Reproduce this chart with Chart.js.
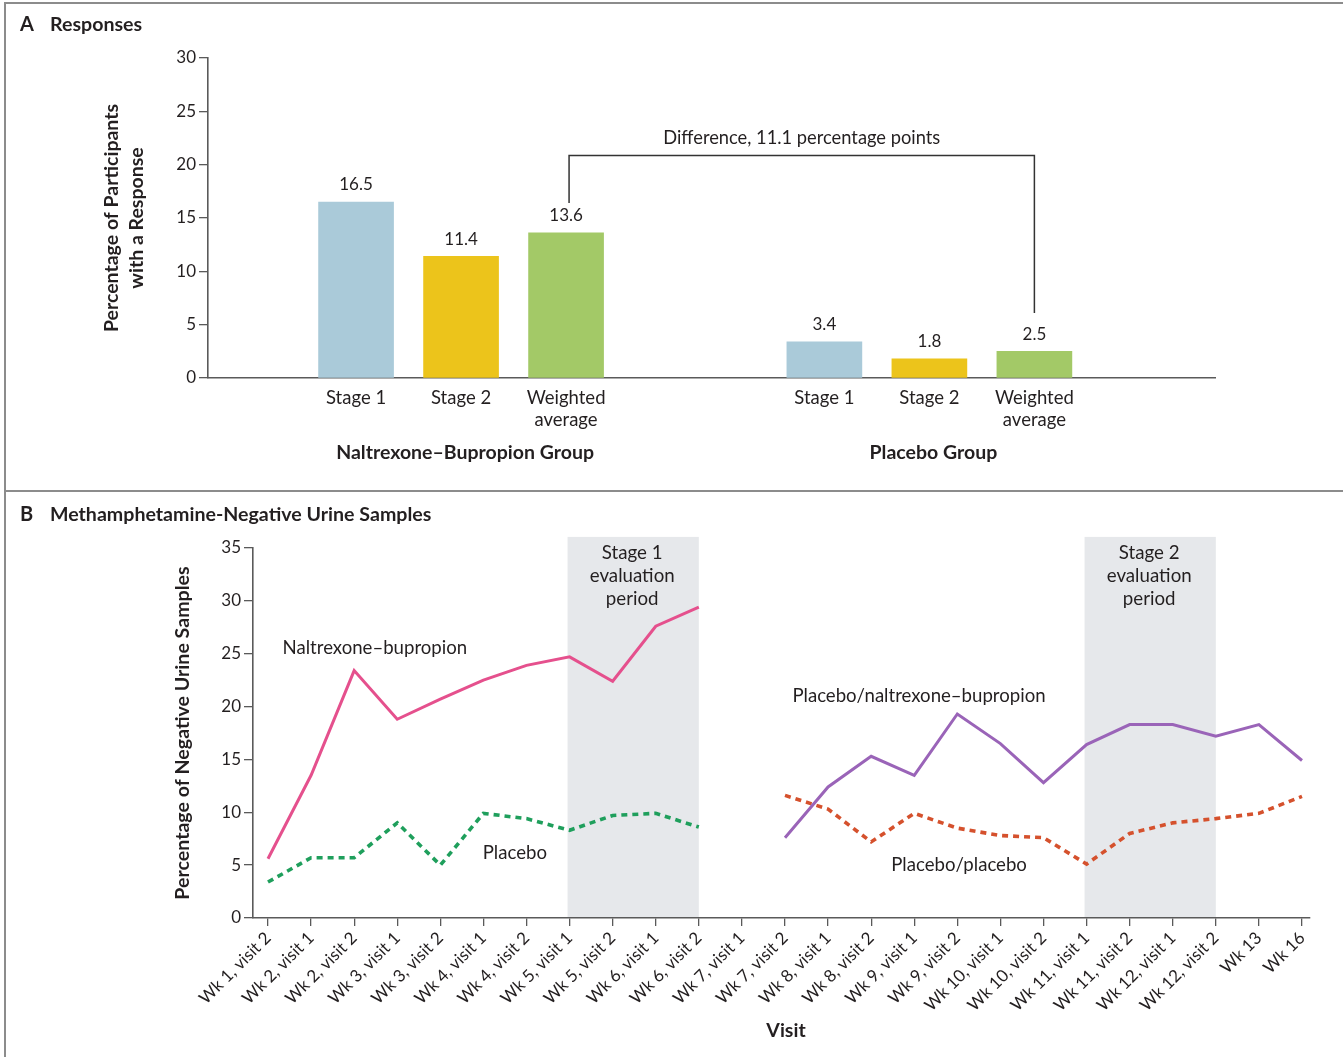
<!DOCTYPE html>
<html>
<head>
<meta charset="utf-8">
<title>Naltrexone–Bupropion: Responses and Methamphetamine-Negative Urine Samples</title>
<script src="https://cdn.jsdelivr.net/npm/chart.js@4.4.1/dist/chart.umd.min.js"></script>
<style>
  html, body { margin: 0; padding: 0; background: #fff; }
  #fig { position: relative; width: 1343px; height: 1057px; overflow: hidden; background: #fff; }
  canvas { position: absolute; left: 0; }
  #chartA { top: 0; }
  #chartB { top: 492px; }
  .rule { position: absolute; background: #8c8c8c; }
</style>
</head>
<body>
<div id="fig">
  <canvas id="chartA" width="1343" height="490"></canvas>
  <canvas id="chartB" width="1343" height="565"></canvas>
  <div class="rule" style="left:4px;top:2px;width:1339px;height:2px"></div>
  <div class="rule" style="left:4px;top:2px;width:2px;height:1055px"></div>
  <div class="rule" style="left:4px;top:490px;width:1339px;height:2px"></div>
</div>
<script>
// ---------- Panel A: responses ----------
const groupNames = ['Naltrexone–Bupropion Group', 'Placebo Group'];
const stageNames = [['Stage 1'], ['Stage 2'], ['Weighted', 'average']];
const naltrexoneBupropion = [16.5, 11.4, 13.6];
const placeboGroup = [3.4, 1.8, 2.5];
const responseTicks = [0, 5, 10, 15, 20, 25, 30];
const differenceText = 'Difference, 11.1 percentage points';

// ---------- Panel B: methamphetamine-negative urine samples ----------
const visits = [
  'Wk 1, visit 2', 'Wk 2, visit 1', 'Wk 2, visit 2', 'Wk 3, visit 1', 'Wk 3, visit 2',
  'Wk 4, visit 1', 'Wk 4, visit 2', 'Wk 5, visit 1', 'Wk 5, visit 2', 'Wk 6, visit 1',
  'Wk 6, visit 2', 'Wk 7, visit 1', 'Wk 7, visit 2', 'Wk 8, visit 1', 'Wk 8, visit 2',
  'Wk 9, visit 1', 'Wk 9, visit 2', 'Wk 10, visit 1', 'Wk 10, visit 2', 'Wk 11, visit 1',
  'Wk 11, visit 2', 'Wk 12, visit 1', 'Wk 12, visit 2', 'Wk 13', 'Wk 16'
];
const stage1Naltrexone = [5.6, 13.5, 23.4, 18.8, 20.7, 22.5, 23.9, 24.7, 22.4, 27.6, 29.4,
  null, null, null, null, null, null, null, null, null, null, null, null, null, null];
const stage1Placebo = [3.4, 5.7, 5.7, 9.0, 5.0, 9.9, 9.4, 8.3, 9.7, 9.9, 8.6,
  null, null, null, null, null, null, null, null, null, null, null, null, null, null];
const placeboToNaltrexone = [null, null, null, null, null, null, null, null, null, null, null, null,
  7.6, 12.4, 15.3, 13.5, 19.3, 16.5, 12.8, 16.4, 18.3, 18.3, 17.2, 18.3, 14.9];
const placeboToPlacebo = [null, null, null, null, null, null, null, null, null, null, null, null,
  11.6, 10.3, 7.2, 9.9, 8.5, 7.8, 7.6, 5.1, 8.0, 9.0, 9.4, 9.9, 11.5];
const urineTicks = [0, 5, 10, 15, 20, 25, 30, 35];
const evaluationPeriods = [
  { text: ['Stage 1', 'evaluation', 'period'], first: 'Wk 5, visit 1', last: 'Wk 6, visit 2' },
  { text: ['Stage 2', 'evaluation', 'period'], first: 'Wk 11, visit 1', last: 'Wk 12, visit 2' }
];

// ---------- shared styling ----------
const FONT = 'Lato, "Open Sans", "DejaVu Sans", sans-serif';
const INK = '#231f20';
const AXIS = '#5a5a5a';
const stageColors = ['#aacad9', '#ecc41b', '#a3c967'];

Chart.defaults.font.family = FONT;
Chart.defaults.color = INK;
Chart.defaults.animation = false;

function drawPanelTitle(ctx, letter, text, y) {
  ctx.save();
  ctx.fillStyle = INK;
  ctx.textBaseline = 'middle';
  ctx.textAlign = 'left';
  ctx.font = `bold 20px ${FONT}`;
  ctx.fillText(letter, 20, y);
  ctx.font = `bold 19.6px ${FONT}`;
  ctx.fillText(text, 50, y);
  ctx.restore();
}

function drawVerticalTitle(ctx, lines, cx, cy, lineGap, font) {
  ctx.save();
  ctx.translate(cx, cy);
  ctx.rotate(-Math.PI / 2);
  ctx.fillStyle = INK;
  ctx.font = font;
  ctx.textAlign = 'center';
  ctx.textBaseline = 'middle';
  const off = (lines.length - 1) / 2;
  lines.forEach((t, i) => ctx.fillText(t, 0, (i - off) * lineGap));
  ctx.restore();
}

// ---------- Chart A ----------
// bar slots along a linear axis, one unit per bar inside a group
const groupStart = [1.41, 5.87];
const barValues = [...naltrexoneBupropion, ...placeboGroup];
const barSlots = barValues.map((_, i) => groupStart[Math.floor(i / 3)] + (i % 3));
const barColors = barValues.map((_, i) => stageColors[i % 3]);

const responsesDecor = {
  id: 'responsesDecor',
  afterDraw(chart) {
    const { ctx, scales: { x, y } } = chart;
    const bars = chart.getDatasetMeta(0).data;
    ctx.save();
    ctx.fillStyle = INK;
    ctx.textAlign = 'center';
    ctx.textBaseline = 'middle';

    // value labels above the bars
    ctx.font = `17px ${FONT}`;
    bars.forEach((bar, i) => ctx.fillText(barValues[i].toFixed(1), bar.x, bar.y - 17));

    // group names under the stage labels
    ctx.font = `bold 19.5px ${FONT}`;
    groupNames.forEach((g, gi) => {
      ctx.fillText(g, x.getPixelForValue(groupStart[gi] + 1) + 4, 453);
    });

    // bracket between the two weighted averages
    const xl = bars[2].x + 3, xr = bars[5].x;
    const yTop = Math.round(y.getPixelForValue(20.9)) + 0.5;
    ctx.strokeStyle = '#333';
    ctx.lineWidth = 1.5;
    ctx.beginPath();
    ctx.moveTo(xl, y.getPixelForValue(16.4));
    ctx.lineTo(xl, yTop);
    ctx.lineTo(xr, yTop);
    ctx.lineTo(xr, y.getPixelForValue(6.1));
    ctx.stroke();
    ctx.font = `18.3px ${FONT}`;
    ctx.fillText(differenceText, (xl + xr) / 2, yTop - 17);
    ctx.restore();

    drawPanelTitle(ctx, 'A', 'Responses', 25);
    drawVerticalTitle(ctx, ['Percentage of Participants', 'with a Response'],
      124.5, (chart.chartArea.top + chart.chartArea.bottom) / 2, 25, `bold 19.5px ${FONT}`);
  }
};

new Chart(document.getElementById('chartA'), {
  type: 'bar',
  data: {
    datasets: [{
      data: barValues.map((v, i) => ({ x: barSlots[i], y: v })),
      backgroundColor: barColors,
      borderWidth: 0,
      barThickness: 75
    }]
  },
  options: {
    responsive: false,
    layout: { padding: { left: 0, right: 128, top: 58, bottom: 0 } },
    plugins: { legend: { display: false }, tooltip: { enabled: false } },
    scales: {
      x: {
        type: 'linear',
        min: 0,
        max: 9.59,
        offset: false,
        afterBuildTicks: s => { s.ticks = barSlots.map(v => ({ value: v })); },
        afterFit: s => { s.height = 112; },
        ticks: {
          autoSkip: false,
          maxRotation: 0,
          padding: 9,
          color: INK,
          font: { size: 18.5, lineHeight: 1.2 },
          callback: (v, i) => stageNames[i % 3]
        },
        grid: { display: false, drawTicks: false },
        border: { display: true, color: AXIS, width: 1.6 }
      },
      y: {
        min: 0,
        max: 30,
        afterBuildTicks: s => { s.ticks = responseTicks.map(v => ({ value: v })); },
        afterFit: s => { s.width = 208; },
        ticks: { padding: 3, color: INK, font: { size: 17 } },
        grid: { drawOnChartArea: false, drawTicks: true, tickLength: 9, color: AXIS, lineWidth: 1.3 },
        border: { display: true, color: AXIS, width: 1.6 }
      }
    }
  },
  plugins: [responsesDecor]
});

// ---------- Chart B ----------
const indexOf = name => visits.indexOf(name);
const toPoints = arr => arr.map((v, i) => ({ x: i, y: v }));

const urineDecor = {
  id: 'urineDecor',
  beforeDraw(chart) {
    const { ctx, scales: { x, y }, chartArea } = chart;
    ctx.save();
    ctx.fillStyle = '#e6e8eb';
    evaluationPeriods.forEach(p => {
      const x0 = x.getPixelForValue(indexOf(p.first)) - 2;
      const x1 = x.getPixelForValue(indexOf(p.last));
      const yTop = y.getPixelForValue(36.05);
      ctx.fillRect(x0, yTop, x1 - x0, chartArea.bottom - yTop);
    });
    ctx.restore();
  },
  afterDraw(chart) {
    const { ctx, scales: { x, y }, chartArea } = chart;
    ctx.save();
    ctx.fillStyle = INK;
    ctx.textAlign = 'center';
    ctx.textBaseline = 'middle';
    ctx.font = `18.7px ${FONT}`;
    evaluationPeriods.forEach(p => {
      const cx = (x.getPixelForValue(indexOf(p.first)) + x.getPixelForValue(indexOf(p.last))) / 2 - 2;
      p.text.forEach((t, i) => ctx.fillText(t, cx, y.getPixelForValue(34.55) + i * 23));
    });

    // series labels beside the lines
    const seriesLabels = [
      ['Naltrexone–bupropion', 2.48, 25.5],
      ['Placebo', 5.73, 6.15],
      ['Placebo/naltrexone–bupropion', 15.11, 21.0],
      ['Placebo/placebo', 16.04, 5.0]
    ];
    ctx.font = `18.6px ${FONT}`;
    seriesLabels.forEach(([t, vx, vy]) => ctx.fillText(t, x.getPixelForValue(vx), y.getPixelForValue(vy)));

    ctx.font = `bold 19.5px ${FONT}`;
    ctx.fillText('Visit', 786, 539);
    ctx.restore();

    drawPanelTitle(ctx, 'B', 'Methamphetamine-Negative Urine Samples', 23);
    drawVerticalTitle(ctx, ['Percentage of Negative Urine Samples'],
      183, (chartArea.top + chartArea.bottom) / 2, 25, `bold 19.6px ${FONT}`);
  }
};

const lineStyle = (data, color, dashed) => ({
  data: toPoints(data),
  borderColor: color,
  backgroundColor: color,
  borderWidth: dashed ? 3.6 : 3,
  borderDash: dashed ? [6, 5] : [],
  borderCapStyle: 'butt',
  borderJoinStyle: 'miter',
  pointRadius: 0,
  tension: 0,
  spanGaps: false,
  clip: false
});

new Chart(document.getElementById('chartB'), {
  type: 'line',
  data: {
    datasets: [
      lineStyle(stage1Naltrexone, '#e5508d', false),
      lineStyle(stage1Placebo, '#1f9f5c', true),
      lineStyle(placeboToNaltrexone, '#9a64b8', false),
      lineStyle(placeboToPlacebo, '#d5512d', true)
    ]
  },
  options: {
    responsive: false,
    layout: { padding: { left: 0, right: 33, top: 56, bottom: 0 } },
    plugins: { legend: { display: false }, tooltip: { enabled: false } },
    scales: {
      x: {
        type: 'linear',
        min: -0.348,
        max: 24.186,
        afterBuildTicks: s => { s.ticks = visits.map((_, i) => ({ value: i })); },
        afterFit: s => { s.height = 139; },
        ticks: {
          autoSkip: false,
          minRotation: 45,
          maxRotation: 45,
          padding: 2,
          color: INK,
          font: { size: 17 },
          callback: (v, i) => visits[i]
        },
        grid: { drawOnChartArea: false, drawTicks: true, tickLength: 8, color: AXIS, lineWidth: 1.3 },
        border: { display: true, color: AXIS, width: 1.6 }
      },
      y: {
        min: 0,
        max: 35,
        afterBuildTicks: s => { s.ticks = urineTicks.map(v => ({ value: v })); },
        afterFit: s => { s.width = 253; },
        ticks: { padding: 3, color: INK, font: { size: 17 } },
        grid: { drawOnChartArea: false, drawTicks: true, tickLength: 9, color: AXIS, lineWidth: 1.3 },
        border: { display: true, color: AXIS, width: 1.6 }
      }
    }
  },
  plugins: [urineDecor]
});
</script>
</body>
</html>
